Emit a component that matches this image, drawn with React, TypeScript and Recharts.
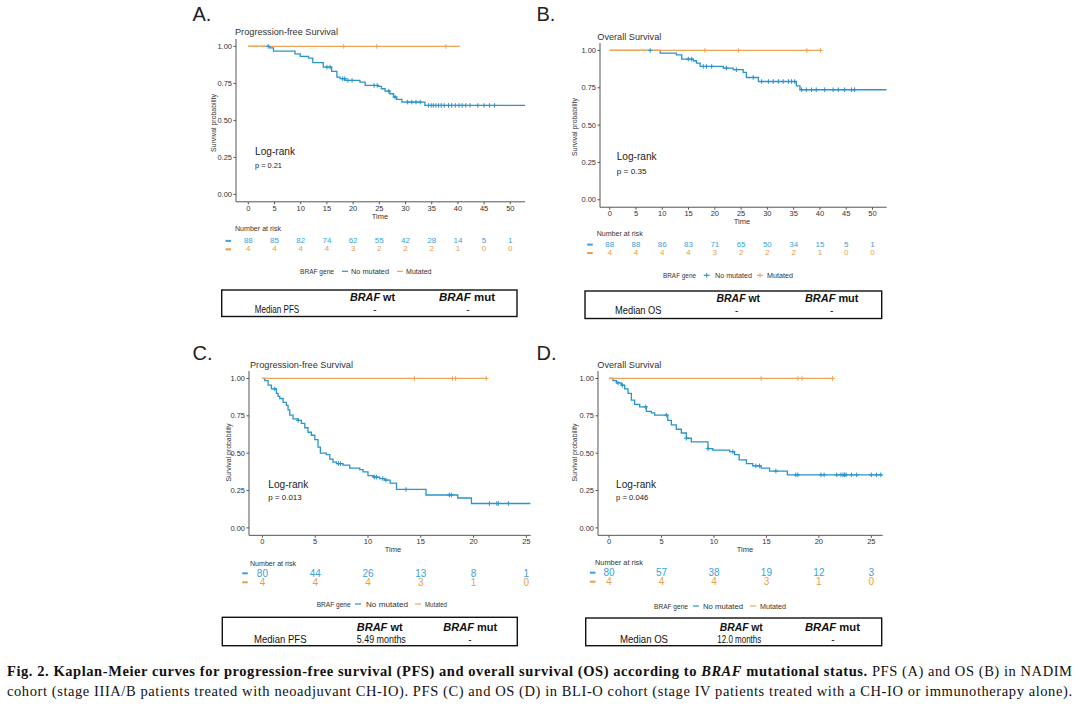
import React from 'react';
import { ComposedChart, ScatterChart, Line, Scatter, XAxis, YAxis } from 'recharts';

const FONT = '"Liberation Sans", Arial, sans-serif';
const SERIF = '"Liberation Serif", "DejaVu Serif", serif';
const BLUE = '#2a94cc';
const ORANGE = '#eca458';
const BLUE_T = '#3aa3da';
const ORANGE_T = '#e6a044';

// ---------- Panel A: PFS, NADIM ----------
const aTicks = [0, 5, 10, 15, 20, 25, 30, 35, 40, 45, 50];
const aBlueT = [0, 4.1, 4.8, 8.9, 9.9, 11.5, 12.3, 14.3, 15.9, 16.9, 17.5, 18.5, 21.3, 22.3, 24.8, 25.4, 26.1, 27.0, 27.7, 28.3, 29.3, 33.7, 52.8];
const aBlueS = [1, 0.99, 0.968, 0.95, 0.932, 0.921, 0.89, 0.86, 0.831, 0.793, 0.782, 0.77, 0.759, 0.736, 0.73, 0.714, 0.698, 0.68, 0.658, 0.642, 0.624, 0.601, 0.601];
const aBlueCens = [3.8, 15.0, 15.6, 18.0, 18.4, 19.0, 19.8, 24.0, 24.6, 26.8, 28.0, 30.4, 31.2, 32.0, 32.8, 34.4, 34.9, 35.3, 35.8, 36.3, 36.8, 37.4, 38.2, 38.8, 39.5, 40.2, 40.8, 41.5, 42.3, 43.8, 45.0, 46.0, 47.0];
const aOrangeT = [0, 40.4];
const aOrangeS = [1, 1];
const aOrangeCens = [18.2, 24.5, 37.7];
const aRiskNo = [88, 85, 82, 74, 62, 55, 42, 28, 14, 5, 1];
const aRiskMut = [4, 4, 4, 4, 3, 2, 2, 2, 1, 0, 0];

// ---------- Panel B: OS, NADIM ----------
const bTicks = [0, 5, 10, 15, 20, 25, 30, 35, 40, 45, 50];
const bBlueT = [0, 9.6, 12.7, 13.7, 15.9, 16.5, 17.2, 21.6, 23.5, 25.4, 26.0, 28.3, 35.5, 36.2, 52.7];
const bBlueS = [1, 0.982, 0.971, 0.942, 0.931, 0.915, 0.893, 0.882, 0.871, 0.853, 0.819, 0.792, 0.763, 0.737, 0.737];
const bBlueCens = [7.7, 14.95, 15.6, 17.8, 18.4, 19.4, 22.2, 24.1, 27.3, 28.9, 30.2, 31.1, 32.1, 33.0, 34.0, 34.6, 35.2, 36.5, 37.4, 38.4, 39.3, 40.9, 42.5, 43.5, 44.7, 46.0, 46.6];
const bOrangeT = [0, 40.1];
const bOrangeS = [1, 1];
const bOrangeCens = [18.1, 24.5, 37.5, 40.1];
const bRiskNo = [88, 88, 86, 83, 71, 65, 50, 34, 15, 5, 1];
const bRiskMut = [4, 4, 4, 4, 3, 2, 2, 2, 1, 0, 0];

// ---------- Panel C: PFS, BLI-O ----------
const cTicks = [0, 5, 10, 15, 20, 25];
const cBlueT = [0, 0.22, 0.54, 0.85, 1.33, 1.48, 1.64, 1.96, 2.27, 2.43, 2.59, 2.9, 3.38, 3.69, 4.01, 4.32, 4.64, 4.96, 5.27, 5.49, 6.06, 6.38, 6.69, 7.01, 7.64, 8.27, 9.22, 9.53, 10.0, 10.5, 11.1, 11.6, 12.1, 12.7, 15.5, 18.5, 19.8, 25.4];
const cBlueS = [1, 0.985, 0.955, 0.93, 0.9, 0.88, 0.866, 0.84, 0.82, 0.79, 0.755, 0.73, 0.72, 0.7, 0.67, 0.64, 0.62, 0.59, 0.54, 0.5, 0.49, 0.46, 0.44, 0.43, 0.42, 0.4, 0.39, 0.375, 0.35, 0.34, 0.33, 0.32, 0.3, 0.257, 0.22, 0.2, 0.163, 0.163];
const cBlueCens = [1.17, 3.38, 7.2, 7.4, 10.6, 10.8, 11.4, 11.7, 13.6, 17.7, 17.9, 21.5, 22.2, 22.35, 23.3];
const cOrangeT = [0, 21.2];
const cOrangeS = [1, 1];
const cOrangeCens = [14.4, 18.0, 18.3, 21.2];
const cRiskNo = [80, 44, 26, 13, 8, 1];
const cRiskMut = [4, 4, 4, 3, 1, 0];

// ---------- Panel D: OS, BLI-O ----------
const dTicks = [0, 5, 10, 15, 20, 25];
const dBlueT = [0, 0.38, 0.7, 1.17, 1.49, 1.81, 2.13, 2.44, 2.92, 3.56, 4.03, 4.35, 5.6, 5.94, 6.41, 6.89, 7.37, 7.84, 9.43, 9.9, 11.5, 11.97, 12.4, 13.1, 13.7, 14.5, 15.3, 17.0, 26.1];
const dBlueS = [1, 0.985, 0.97, 0.955, 0.93, 0.9, 0.855, 0.826, 0.81, 0.78, 0.77, 0.755, 0.72, 0.69, 0.66, 0.635, 0.6, 0.575, 0.53, 0.52, 0.51, 0.49, 0.455, 0.43, 0.415, 0.4, 0.38, 0.355, 0.355];
const dBlueCens = [0.86, 1.27, 3.5, 5.46, 7.37, 9.43, 11.8, 14.0, 14.35, 15.9, 17.8, 18.0, 20.2, 20.5, 21.7, 22.1, 22.3, 22.45, 22.6, 23.1, 23.6, 25.0, 25.5, 25.9];
const dOrangeT = [0, 21.3];
const dOrangeS = [1, 1];
const dOrangeCens = [14.5, 18.0, 18.4, 21.3];
const dRiskNo = [80, 57, 38, 19, 12, 3];
const dRiskMut = [4, 4, 4, 3, 1, 0];

// ---------- helpers ----------
const toSteps = (ts: number[], ss: number[]) => ts.map((t, i) => ({ t, s: ss[i] }));
const survAt = (ts: number[], ss: number[], t: number) => {
  let v = ss[0];
  for (let i = 0; i < ts.length; i++) if (ts[i] <= t) v = ss[i];
  return v;
};
const toCens = (cs: number[], ts: number[], ss: number[]) => cs.map((t) => ({ t, s: survAt(ts, ss, t) }));

const crossShape = (color: string) => (p: any) => {
  const { cx, cy } = p;
  if (cx == null || cy == null) return <g />;
  return <path d={`M${cx - 2.3},${cy}h4.6M${cx},${cy - 2.3}v4.6`} stroke={color} strokeWidth={1} fill="none" />;
};

type Geo = { pl: number; pr: number; y1: number; y0: number; xd: [number, number]; ticks: number[] };

function KMChart({ geo, blue, orange, blueC, orangeC }: any) {
  const g: Geo = geo;
  const wy = 30;
  const hx = 14;
  const unit = g.y0 - g.y1;
  const pt = g.y1 - 0.05 * unit;
  const pb = g.y0 + 0.05 * unit;
  return (
    <div style={{ position: 'absolute', left: g.pl - wy, top: pt }}>
      <ComposedChart width={g.pr - g.pl + wy} height={pb - pt + hx} margin={{ top: 0, right: 0, bottom: 0, left: 0 }}>
        <XAxis
          type="number"
          dataKey="t"
          domain={g.xd}
          allowDataOverflow
          ticks={g.ticks}
          interval={0}
          height={hx}
          tickSize={2.5}
          tickMargin={1}
          stroke="#555"
          tick={{ fontSize: 7.5, fill: '#333', fontFamily: FONT }}
        />
        <YAxis
          type="number"
          domain={[-0.05, 1.05]}
          allowDataOverflow
          ticks={[0, 0.25, 0.5, 0.75, 1]}
          interval={0}
          width={wy}
          tickSize={2.5}
          tickMargin={1.5}
          stroke="#555"
          tickFormatter={(v: number) => v.toFixed(2)}
          tick={{ fontSize: 7.5, fill: '#333', fontFamily: FONT }}
        />
        <Line data={blue} dataKey="s" type="stepAfter" stroke={BLUE} strokeWidth={1.3} dot={false} isAnimationActive={false} />
        <Scatter data={blueC} dataKey="s" shape={crossShape(BLUE)} isAnimationActive={false} />
        <Line data={orange} dataKey="s" type="stepAfter" stroke={ORANGE} strokeWidth={1.2} dot={false} isAnimationActive={false} />
        <Scatter data={orangeC} dataKey="s" shape={crossShape(ORANGE)} isAnimationActive={false} />
      </ComposedChart>
    </div>
  );
}

function RiskTable({ geo, noMut, mut, rowY, sp, fs }: any) {
  const g: Geo = geo;
  const pts = [
    ...g.ticks.map((t, i) => ({ t, row: 0, n: noMut[i] })),
    ...g.ticks.map((t, i) => ({ t, row: 1, n: mut[i] })),
  ];
  const shape = (p: any) => {
    if (p.cx == null) return <g />;
    return (
      <text x={p.cx} y={p.cy} textAnchor="middle" dominantBaseline="central" fontSize={fs} fontFamily={FONT} fill={p.payload.row === 0 ? BLUE_T : ORANGE_T}>
        {p.payload.n}
      </text>
    );
  };
  const pad = 12;
  return (
    <div style={{ position: 'absolute', left: g.pl - pad, top: rowY - 1.5 * sp }}>
      <ScatterChart width={g.pr - g.pl + 2 * pad} height={4 * sp} margin={{ top: 0, right: pad, bottom: 0, left: pad }}>
        <XAxis type="number" dataKey="t" domain={g.xd} allowDataOverflow hide />
        <YAxis type="number" dataKey="row" domain={[-1.5, 2.5]} reversed allowDataOverflow hide />
        <Scatter data={pts} shape={shape} isAnimationActive={false} />
      </ScatterChart>
    </div>
  );
}

const T = ({ x, y, size, w, anchor = 'start', weight, fill = '#222', family = FONT, children, rotate }: any) => (
  <text
    x={x}
    y={y}
    fontSize={size}
    textAnchor={anchor}
    dominantBaseline="central"
    fontWeight={weight}
    fill={fill}
    fontFamily={family}
    textLength={w}
    lengthAdjust={w ? 'spacingAndGlyphs' : undefined}
    transform={rotate ? `rotate(-90 ${x} ${y})` : undefined}
  >
    {children}
  </text>
);

function Overlay({ c }: any) {
  return (
    <g>
      <T x={c.letter[0]} y={c.letter[1]} size={20}>{c.letterText}</T>
      <T x={c.title[0]} y={c.title[1]} size={9.5} w={c.title[2]} fill="#333">{c.titleText}</T>
      <T x={c.ytitle[0]} y={c.ytitle[1]} size={6.8} w={58} anchor="middle" rotate fill="#333">Survival probability</T>
      <T x={c.time[0]} y={c.time[1]} size={7.5} anchor="middle" fill="#333">Time</T>
      <T x={c.lr[0]} y={c.lr[1]} size={10.5} w={40} fill="#222">Log-rank</T>
      <T x={c.p[0]} y={c.p[1]} size={7.5} w={c.p[2]} fill="#222">{c.pText}</T>
      <T x={c.nar[0]} y={c.nar[1]} size={7} w={c.nar[2]} fill="#333">Number at risk</T>
      <rect x={c.dash[0] - 2.8} y={c.dash[1] - 1} width={5.6} height={2} fill={BLUE_T} />
      <rect x={c.dash[0] - 2.8} y={c.dash[2] - 1} width={5.6} height={2} fill={ORANGE_T} />
      {/* legend */}
      <T x={c.leg.b[0]} y={c.leg.y} size={7} w={c.leg.b[1]} fill="#333">BRAF gene</T>
      <line x1={c.leg.k1 - 3} x2={c.leg.k1 + 3} y1={c.leg.y} y2={c.leg.y} stroke={BLUE} strokeWidth={1.2} />
      {c.leg.cross && <line x1={c.leg.k1} x2={c.leg.k1} y1={c.leg.y - 2.3} y2={c.leg.y + 2.3} stroke={BLUE} strokeWidth={1} />}
      <T x={c.leg.n[0]} y={c.leg.y} size={7} w={c.leg.n[1]} fill="#333">No mutated</T>
      <line x1={c.leg.k2 - 3} x2={c.leg.k2 + 3} y1={c.leg.y} y2={c.leg.y} stroke={ORANGE} strokeWidth={1.2} />
      {c.leg.cross && <line x1={c.leg.k2} x2={c.leg.k2} y1={c.leg.y - 2.3} y2={c.leg.y + 2.3} stroke={ORANGE} strokeWidth={1} />}
      <T x={c.leg.m[0]} y={c.leg.y} size={7} w={c.leg.m[1]} fill="#333">Mutated</T>
      {/* box */}
      <rect x={c.box[0]} y={c.box[1]} width={c.box[2] - c.box[0]} height={c.box[3] - c.box[1]} fill="none" stroke="#111" strokeWidth={1.4} />
      <text x={c.hwt[0]} y={c.hy} fontSize={11} fontWeight="bold" fontFamily={FONT} textAnchor="middle" dominantBaseline="central" textLength={c.hwt[1]} lengthAdjust="spacingAndGlyphs" fill="#111">
        <tspan fontStyle="italic">BRAF</tspan> wt
      </text>
      <text x={c.hmut[0]} y={c.hy} fontSize={11} fontWeight="bold" fontFamily={FONT} textAnchor="middle" dominantBaseline="central" textLength={c.hmut[1]} lengthAdjust="spacingAndGlyphs" fill="#111">
        <tspan fontStyle="italic">BRAF</tspan> mut
      </text>
      <T x={c.rl[0]} y={c.ry} size={10.5} w={c.rl[1]} anchor="middle" fill="#111">{c.rowLabel}</T>
      <T x={c.rwt[0]} y={c.ry} size={10} w={c.rwt[1] || undefined} anchor="middle" fill="#111">{c.wtVal}</T>
      <T x={c.rmut} y={c.ry} size={10} anchor="middle" fill="#111">-</T>
    </g>
  );
}

const geoA: Geo = { pl: 236, pr: 525, y1: 46, y0: 194, xd: [-2.35, 52.8], ticks: aTicks };
const geoB: Geo = { pl: 600, pr: 886.7, y1: 50.7, y0: 200, xd: [-1.85, 52.7], ticks: bTicks };
const geoC: Geo = { pl: 249.3, pr: 531, y1: 378.3, y0: 527.7, xd: [-1.27, 25.41], ticks: cTicks };
const geoD: Geo = { pl: 598.3, pr: 883, y1: 378.3, y0: 527.7, xd: [-1.05, 26.08], ticks: dTicks };

const ovA = {
  letterText: 'A.', letter: [192.5, 13.5], titleText: 'Progression-free Survival', title: [235, 31.5, 103],
  ytitle: [213.3, 123], time: [380, 216], lr: [255, 151], p: [255, 165.5, 27], pText: 'p = 0.21',
  nar: [235, 228.5, 46], dash: [228.3, 240.9, 249.3],
  leg: { y: 271.3, b: [300, 34], k1: 345, n: [351, 38], k2: 400, m: [406, 25.5], cross: false },
  box: [221.7, 290, 517, 316.5], hy: 296.8, hwt: [372.5, 45], hmut: [467, 56],
  ry: 309.2, rl: [277, 44.5], rowLabel: 'Median PFS', rwt: [375, 0], wtVal: '-', rmut: 468,
};
const ovB = {
  letterText: 'B.', letter: [536.5, 13.5], titleText: 'Overall Survival', title: [597.3, 36, 64],
  ytitle: [574.3, 127], time: [742, 221.5], lr: [616.7, 156], p: [616.7, 171.7, 30], pText: 'p = 0.35',
  nar: [596.7, 233.5, 46], dash: [590, 244.6, 253],
  leg: { y: 275.3, b: [663, 33], k1: 706.7, n: [715, 37], k2: 760, m: [767, 26], cross: true },
  box: [585, 291, 881.7, 318.5], hy: 297.5, hwt: [738.3, 43.5], hmut: [831.7, 53.5],
  ry: 310, rl: [638.3, 46.5], rowLabel: 'Median OS', rwt: [736.7, 0], wtVal: '-', rmut: 831.7,
};
const ovC = {
  letterText: 'C.', letter: [192.5, 353], titleText: 'Progression-free Survival', title: [250, 364, 103],
  ytitle: [228.3, 452.5], time: [393, 549], lr: [268.3, 484], p: [268.3, 497.7, 33.4], pText: 'p = 0.013',
  nar: [250, 563.3, 46], dash: [245, 573.3, 582.3],
  leg: { y: 604, b: [316.7, 34], k1: 358, n: [366, 42], k2: 418, m: [425, 22], cross: false },
  box: [222.3, 617.3, 517.3, 645.7], hy: 627, hwt: [379.7, 46], hmut: [470.3, 54],
  ry: 639.2, rl: [280.3, 52.5], rowLabel: 'Median PFS', rwt: [381.3, 49], wtVal: '5.49 months', rmut: 470,
};
const ovD = {
  letterText: 'D.', letter: [536.5, 353], titleText: 'Overall Survival', title: [597.3, 364, 64],
  ytitle: [574.3, 452.5], time: [745, 549], lr: [616, 484], p: [616, 497.7, 32.3], pText: 'p = 0.046',
  nar: [595, 562.5, 48], dash: [592.7, 572.7, 581.7],
  leg: { y: 606, b: [654, 34], k1: 696, n: [703, 40], k2: 753, m: [760, 26], cross: false },
  box: [585.7, 618, 881.7, 645.7], hy: 626.8, hwt: [741.3, 43], hmut: [832.5, 55],
  ry: 639.3, rl: [644, 48], rowLabel: 'Median OS', rwt: [739.3, 44], wtVal: '12.0 months', rmut: 833,
};

export default function App() {
  return (
    <div style={{ position: 'absolute', left: 0, top: 0, width: 1080, height: 706, background: '#fff', overflow: 'hidden' }}>
      <KMChart geo={geoA} blue={toSteps(aBlueT, aBlueS)} orange={toSteps(aOrangeT, aOrangeS)} blueC={toCens(aBlueCens, aBlueT, aBlueS)} orangeC={toCens(aOrangeCens, aOrangeT, aOrangeS)} />
      <KMChart geo={geoB} blue={toSteps(bBlueT, bBlueS)} orange={toSteps(bOrangeT, bOrangeS)} blueC={toCens(bBlueCens, bBlueT, bBlueS)} orangeC={toCens(bOrangeCens, bOrangeT, bOrangeS)} />
      <KMChart geo={geoC} blue={toSteps(cBlueT, cBlueS)} orange={toSteps(cOrangeT, cOrangeS)} blueC={toCens(cBlueCens, cBlueT, cBlueS)} orangeC={toCens(cOrangeCens, cOrangeT, cOrangeS)} />
      <KMChart geo={geoD} blue={toSteps(dBlueT, dBlueS)} orange={toSteps(dOrangeT, dOrangeS)} blueC={toCens(dBlueCens, dBlueT, dBlueS)} orangeC={toCens(dOrangeCens, dOrangeT, dOrangeS)} />
      <RiskTable geo={geoA} noMut={aRiskNo} mut={aRiskMut} rowY={240.9} sp={8.4} fs={8} />
      <RiskTable geo={geoB} noMut={bRiskNo} mut={bRiskMut} rowY={244.6} sp={8.4} fs={8} />
      <RiskTable geo={geoC} noMut={cRiskNo} mut={cRiskMut} rowY={573.3} sp={9} fs={10} />
      <RiskTable geo={geoD} noMut={dRiskNo} mut={dRiskMut} rowY={572.7} sp={9} fs={10} />
      <svg width={1080} height={706} style={{ position: 'absolute', left: 0, top: 0, pointerEvents: 'none' }}>
        <Overlay c={ovA} />
        <Overlay c={ovB} />
        <Overlay c={ovC} />
        <Overlay c={ovD} />
        <text x={7} y={671} fontSize={14.5} fontFamily={SERIF} dominantBaseline="central" textLength={1065} lengthAdjust="spacing" fill="#111">
          <tspan fontWeight="bold">Fig. 2.  Kaplan-Meier curves for progression-free survival (PFS) and overall survival (OS) according to </tspan>
          <tspan fontWeight="bold" fontStyle="italic">BRAF</tspan>
          <tspan fontWeight="bold"> mutational status.</tspan>
          <tspan> PFS (A) and OS (B) in NADIM</tspan>
        </text>
        <text x={7} y={691} fontSize={14.5} fontFamily={SERIF} dominantBaseline="central" textLength={1065} lengthAdjust="spacing" fill="#111">
          cohort (stage IIIA/B patients treated with neoadjuvant CH-IO). PFS (C) and OS (D) in BLI-O cohort (stage IV patients treated with a CH-IO or immunotherapy alone).
        </text>
      </svg>
    </div>
  );
}
